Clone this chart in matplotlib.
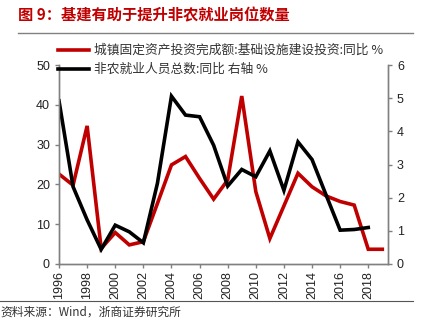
import numpy as np
import matplotlib
matplotlib.use('Agg')
import matplotlib.pyplot as plt
from matplotlib.lines import Line2D

plt.rcParams['font.family'] = ['Noto Sans CJK SC', 'DejaVu Sans']

years_red = list(range(1996, 2020))
infra_yoy = [22.6, 19.8, 34.7, 3.9, 7.9, 4.8, 5.6, 15.2, 24.9, 27.0, 21.5, 16.3,
             21.1, 42.2, 18.2, 6.4, 14.6, 22.8, 19.4, 17.1, 15.7, 14.8, 3.7, 3.7]
years_blk = list(range(1996, 2019))
nonfarm_yoy = [4.92, 2.33, 1.33, 0.44, 1.17, 0.97, 0.64, 2.43, 5.06, 4.49, 4.44, 3.58,
               2.35, 2.85, 2.63, 3.41, 2.22, 3.68, 3.15, 2.08, 1.02, 1.04, 1.10]
xticks = list(range(1996, 2019, 2))

red = '#C00000'
grey = '#808080'
tick_font = ['Liberation Sans', 'DejaVu Sans']

fig = plt.figure(figsize=(4.32, 3.29), dpi=100)
ax = fig.add_axes([0.1366, 0.1976, 0.7614, 0.6048])
ax2 = ax.twinx()

ax.plot(years_red, infra_yoy, color=red, lw=2.6, solid_joinstyle='miter')
ax2.plot(years_blk, nonfarm_yoy, color='black', lw=2.6, solid_joinstyle='miter')

ax.set_xlim(1996, 2019.4)
ax.set_ylim(0, 50)
ax2.set_ylim(0, 6)
ax.set_yticks(range(0, 51, 10))
ax2.set_yticks(range(0, 7))
ax.set_xticks(xticks)
ax.set_xticklabels([str(y) for y in xticks], rotation=90, family=tick_font, fontsize=9)
for lab in ax.get_yticklabels():
    lab.set_family(tick_font); lab.set_fontsize(9)
for lab in ax2.get_yticklabels():
    lab.set_family(tick_font); lab.set_fontsize(9)

for a in (ax, ax2):
    a.spines['top'].set_visible(False)
    for s in ('left', 'right', 'bottom'):
        a.spines[s].set_color(grey)
        a.spines[s].set_linewidth(1.0)
    a.tick_params(colors=grey, labelcolor='#222222', length=3, width=1.0)
ax.tick_params(axis='x', pad=2)

# legend drawn by hand in figure coords
fig.add_artist(Line2D([0.135, 0.207], [0.848, 0.848], color=red, lw=2.6, transform=fig.transFigure))
fig.text(0.218, 0.848, '城镇固定资产投资完成额:基础设施建设投资:同比 %', fontsize=9.2,
         color='#333333', va='center', ha='left')
fig.add_artist(Line2D([0.135, 0.207], [0.79, 0.79], color='black', lw=2.6, transform=fig.transFigure))
fig.text(0.218, 0.79, '非农就业人员总数:同比 右轴 %', fontsize=9.2,
         color='#333333', va='center', ha='left')

fig.text(0.042, 0.952, '图 9：基建有助于提升非农就业岗位数量', fontsize=11, fontweight='bold',
         color=red, va='center', ha='left')
fig.add_artist(Line2D([0.042, 0.956], [0.9, 0.9], color=grey, lw=1.0, transform=fig.transFigure))
fig.add_artist(Line2D([0.0, 0.956], [0.085, 0.085], color='#555555', lw=0.8, transform=fig.transFigure))
fig.text(0.0, 0.052, '资料来源：Wind，浙商证券研究所', fontsize=8.5, color='#333333',
         va='center', ha='left')

fig.savefig('out.png', dpi=100)
